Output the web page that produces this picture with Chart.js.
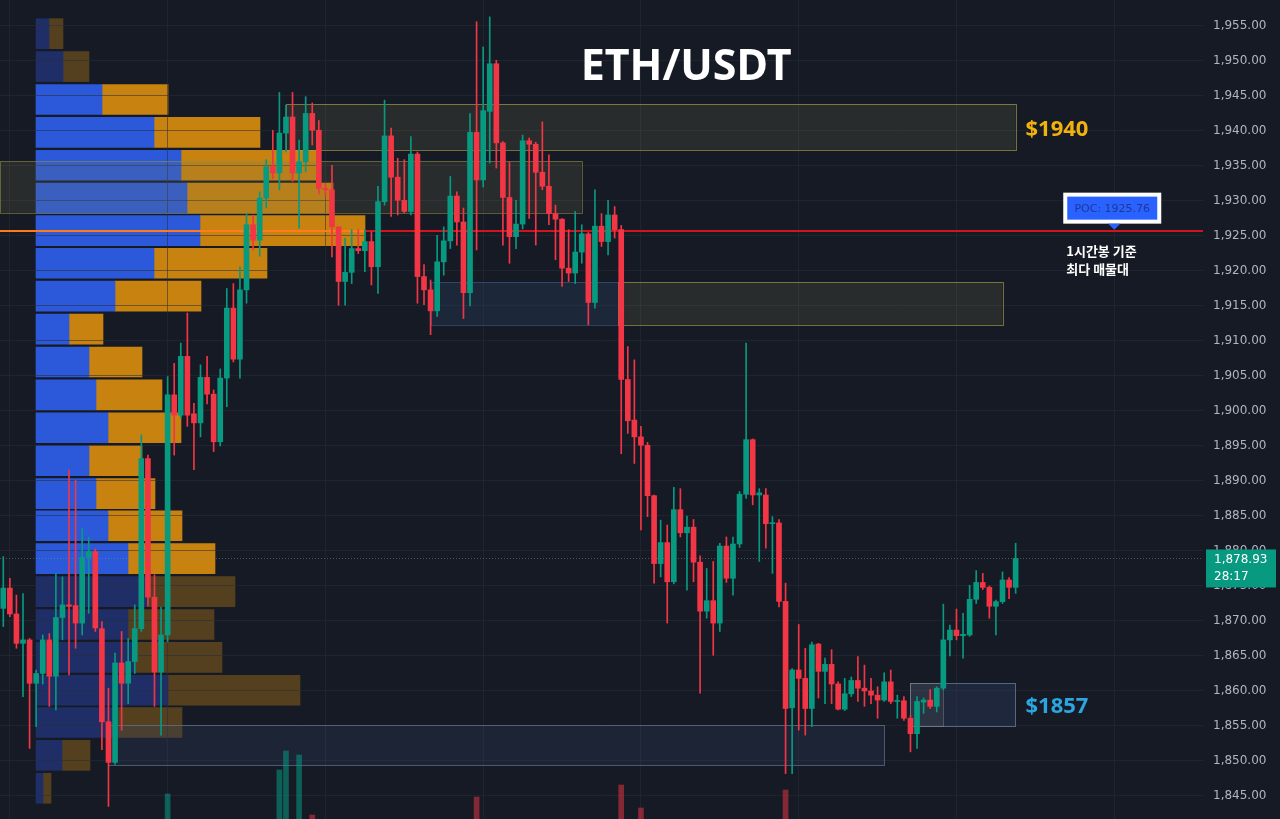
<!DOCTYPE html>
<html>
<head>
<meta charset="utf-8">
<script src="https://cdn.jsdelivr.net/npm/chart.js@4.4.1/dist/chart.umd.min.js"></script>
<style>
  html, body { margin: 0; padding: 0; background: #161a25; overflow: hidden; }
  #wrap { position: relative; width: 1280px; height: 819px; }
  #wrap canvas { position: absolute; left: 0; top: 0; }
</style>
</head>
<body>
<div id="wrap">
  <canvas id="profile" width="1280" height="819"></canvas>
  <canvas id="candles" width="1280" height="819"></canvas>
</div>
<script>
// ETH/USDT 1h candles
const opens = [
  1871.8, 1874.7, 1871.0, 1866.8, 1867.3, 1861.1, 1862.5, 1867.3, 1862.1, 1870.5,
  1872.3, 1872.2, 1869.7, 1879.1, 1879.9, 1868.9, 1855.6, 1849.8, 1864.0, 1861.1,
  1864.2, 1868.9, 1893.2, 1873.4, 1862.7, 1868.0, 1902.3, 1899.4, 1907.8, 1899.6,
  1898.3, 1904.8, 1902.4, 1895.6, 1904.7, 1914.7, 1907.4, 1917.3, 1926.6, 1924.4,
  1930.4, 1934.9, 1934.0, 1939.7, 1942.0, 1934.0, 1935.6, 1942.5, 1940.1, 1931.8,
  1931.6, 1926.3, 1918.5, 1919.8, 1923.2, 1922.9, 1924.2, 1920.6, 1929.9, 1939.3,
  1933.4, 1930.1, 1928.5, 1936.7, 1919.2, 1917.3, 1914.3, 1921.3, 1924.3, 1930.7,
  1927.0, 1916.9, 1939.8, 1933.0, 1942.8, 1949.6, 1938.3, 1930.5, 1924.9, 1926.7,
  1938.6, 1938.1, 1934.1, 1932.1, 1928.2, 1927.4, 1920.4, 1919.7, 1922.7, 1925.3,
  1915.5, 1926.4, 1924.2, 1928.0, 1925.9, 1904.5, 1898.7, 1896.3, 1895.1, 1887.9,
  1878.2, 1881.2, 1875.6, 1885.9, 1882.6, 1883.4, 1878.4, 1871.4, 1872.9, 1869.7,
  1880.7, 1876.1, 1881.0, 1888.1, 1895.9, 1888.0, 1888.0, 1883.9, 1884.0, 1872.8,
  1857.6, 1863.0, 1861.8, 1857.5, 1866.7, 1862.8, 1863.8, 1861.0, 1857.4, 1859.6,
  1861.5, 1860.4, 1860.0, 1859.4, 1858.7, 1861.3, 1858.5, 1858.6, 1856.1, 1853.9,
  1858.4, 1858.7, 1857.8, 1860.4, 1867.3, 1868.7, 1867.9, 1868.0, 1873.1, 1875.5,
  1874.8, 1872.1, 1872.76, 1875.86, 1874.8
];
const highs = [
  1879.2, 1876.1, 1873.7, 1873.9, 1867.5, 1863.0, 1868.0, 1868.2, 1876.8, 1876.3,
  1891.6, 1890.1, 1883.2, 1882.0, 1880.3, 1869.9, 1860.4, 1865.4, 1868.5, 1867.5,
  1872.3, 1896.6, 1893.7, 1876.6, 1872.0, 1904.9, 1906.8, 1909.7, 1914.0, 1901.1,
  1906.6, 1907.8, 1903.0, 1906.0, 1917.5, 1918.2, 1920.6, 1928.2, 1928.0, 1931.3,
  1935.9, 1940.1, 1945.5, 1943.7, 1945.5, 1938.7, 1944.9, 1944.0, 1941.5, 1932.5,
  1935.1, 1926.3, 1924.7, 1925.9, 1925.9, 1925.9, 1925.6, 1932.1, 1944.4, 1940.4,
  1936.1, 1935.9, 1939.2, 1937.0, 1920.9, 1918.7, 1925.1, 1926.3, 1933.5, 1931.3,
  1929.0, 1942.5, 1955.6, 1952.0, 1956.3, 1950.1, 1938.5, 1935.6, 1930.1, 1939.4,
  1939.0, 1938.4, 1941.3, 1936.6, 1929.4, 1927.5, 1925.9, 1928.5, 1926.6, 1925.5,
  1931.6, 1928.2, 1930.1, 1929.2, 1926.5, 1909.2, 1907.3, 1897.8, 1895.5, 1888.0,
  1884.4, 1883.7, 1889.1, 1888.9, 1885.0, 1884.5, 1879.3, 1877.5, 1878.5, 1881.1,
  1882.0, 1882.0, 1888.5, 1909.7, 1896.0, 1888.9, 1888.9, 1884.9, 1884.5, 1875.4,
  1863.2, 1869.5, 1866.1, 1867.0, 1866.8, 1864.7, 1865.9, 1861.3, 1861.8, 1862.0,
  1864.9, 1863.7, 1861.8, 1860.6, 1862.6, 1863.0, 1859.4, 1859.2, 1856.5, 1859.2,
  1859.0, 1860.2, 1860.6, 1872.4, 1869.4, 1871.7, 1871.1, 1875.1, 1877.2, 1876.8,
  1875.0, 1873.0, 1877.0, 1876.2, 1881.1
];
const lows = [
  1869.2, 1870.6, 1866.1, 1859.2, 1851.8, 1854.9, 1861.0, 1857.8, 1857.3, 1867.3,
  1862.3, 1866.1, 1868.0, 1871.1, 1868.5, 1851.6, 1843.5, 1849.5, 1854.4, 1858.2,
  1862.5, 1868.5, 1872.1, 1857.8, 1853.7, 1867.0, 1893.7, 1899.0, 1897.8, 1891.6,
  1896.3, 1901.0, 1894.2, 1895.0, 1900.6, 1907.0, 1904.7, 1915.4, 1923.0, 1922.1,
  1929.0, 1933.2, 1931.6, 1937.0, 1932.8, 1926.1, 1934.2, 1938.0, 1931.0, 1930.8,
  1922.0, 1915.1, 1915.1, 1918.2, 1922.5, 1919.9, 1918.0, 1916.8, 1929.4, 1927.8,
  1928.0, 1928.3, 1928.0, 1915.4, 1915.2, 1910.9, 1913.5, 1919.4, 1923.2, 1923.7,
  1913.2, 1915.0, 1923.0, 1932.0, 1935.4, 1934.7, 1923.7, 1921.1, 1923.2, 1926.0,
  1927.5, 1923.7, 1931.6, 1926.6, 1921.6, 1917.8, 1918.5, 1918.2, 1921.1, 1912.3,
  1914.7, 1923.5, 1922.3, 1924.7, 1893.9, 1896.8, 1892.5, 1883.0, 1884.9, 1875.4,
  1876.3, 1869.7, 1875.3, 1882.0, 1874.4, 1875.6, 1859.7, 1870.4, 1865.1, 1868.5,
  1875.5, 1873.7, 1880.5, 1887.5, 1886.6, 1878.5, 1880.4, 1876.8, 1872.0, 1848.2,
  1848.2, 1854.4, 1853.7, 1854.9, 1859.0, 1858.2, 1858.2, 1857.3, 1857.2, 1859.2,
  1858.5, 1857.8, 1858.2, 1856.1, 1858.5, 1858.2, 1856.1, 1855.8, 1851.3, 1851.8,
  1856.8, 1857.5, 1857.0, 1860.2, 1865.0, 1867.3, 1864.7, 1867.8, 1872.5, 1874.5,
  1870.4, 1868.0, 1872.5, 1873.2, 1873.95
];
const closes = [
  1874.7, 1871.0, 1866.8, 1867.3, 1861.1, 1862.5, 1867.3, 1862.1, 1870.5, 1872.3,
  1872.1, 1869.7, 1879.1, 1879.9, 1869.0, 1855.6, 1849.8, 1864.0, 1861.1, 1864.2,
  1868.9, 1893.2, 1873.4, 1862.7, 1868.0, 1902.3, 1899.4, 1907.8, 1899.4, 1898.3,
  1904.8, 1902.4, 1895.6, 1904.7, 1914.7, 1907.4, 1917.3, 1926.6, 1924.4, 1930.4,
  1934.9, 1934.0, 1939.7, 1942.0, 1934.0, 1935.6, 1942.5, 1940.1, 1931.8, 1931.6,
  1926.3, 1918.5, 1919.8, 1923.2, 1922.9, 1924.2, 1920.6, 1929.9, 1939.3, 1933.4,
  1930.1, 1928.5, 1936.7, 1919.2, 1917.3, 1914.3, 1921.3, 1924.3, 1930.7, 1927.0,
  1916.9, 1939.8, 1933.0, 1942.9, 1949.6, 1938.3, 1930.5, 1924.9, 1926.7, 1938.6,
  1938.1, 1934.1, 1932.1, 1928.2, 1927.4, 1920.4, 1919.7, 1922.7, 1925.3, 1915.5,
  1926.4, 1924.2, 1928.0, 1925.9, 1904.5, 1898.6, 1896.3, 1895.1, 1887.9, 1878.2,
  1881.2, 1875.6, 1885.9, 1882.6, 1883.4, 1878.4, 1871.4, 1872.9, 1869.7, 1880.7,
  1876.1, 1881.0, 1888.1, 1895.9, 1888.0, 1888.3, 1883.9, 1884.0, 1872.8, 1857.5,
  1863.0, 1861.8, 1857.5, 1866.6, 1862.8, 1863.8, 1861.0, 1857.4, 1859.6, 1861.5,
  1860.4, 1860.0, 1859.4, 1858.7, 1861.3, 1858.5, 1858.6, 1856.1, 1853.9, 1858.5,
  1858.7, 1857.8, 1860.4, 1867.3, 1868.7, 1867.9, 1868.1, 1873.1, 1875.5, 1874.8,
  1872.1, 1872.76, 1875.86, 1874.8, 1878.93
];

// volume bars that poke up from the bottom edge (candle index, volume)
const volumeIndex = [25, 42, 43, 45, 47, 72, 94, 97, 119];
const volumeValue = [25, 49, 68, 64, 4, 22, 34, 11, 29];

// volume profile rows (price of row centre, buy / sell volume)
const rowPrices = [1953.9, 1949.2, 1944.5, 1939.8, 1935.1, 1930.4, 1925.76, 1921.1, 1916.4, 1911.7, 1907.0, 1902.3,
  1897.6, 1892.9, 1888.2, 1883.6, 1878.9, 1874.2, 1869.5, 1864.8, 1860.1, 1855.5, 1850.8, 1846.1];
const rowBuy  = [13, 27, 66, 118, 145, 151, 164, 118, 79, 33, 53, 60, 72, 53, 60, 72, 92, 112, 92, 99, 132, 82, 26, 7];
const rowSell = [14, 26, 66, 106, 137, 146, 165, 113, 86, 34, 53, 66, 73, 53, 59, 74, 87, 87, 86, 87, 132, 64, 28, 8];
const rowInValueArea = [0, 0, 1, 1, 1, 1, 1, 1, 1, 1, 1, 1, 1, 1, 1, 1, 1, 0, 0, 0, 0, 0, 0, 0];

const priceTicks = [1845, 1850, 1855, 1860, 1865, 1870, 1875, 1880, 1885, 1890, 1895, 1900, 1905, 1910,
  1915, 1920, 1925, 1930, 1935, 1940, 1945, 1950, 1955];

const pocPrice = 1925.76;
const lastPrice = 1878.93;
const countdown = '28:17';

// zones: candle index range + price range
const zones = [
  { from: -0.5, to: 88,   top: 1935.7,  bottom: 1928.3,  fill: 'rgba(120,120,80,0.20)', line: 'rgba(150,145,70,0.55)' },
  { from: 43,   to: 154,  top: 1943.86, bottom: 1937.29, fill: 'rgba(120,120,80,0.20)', line: 'rgba(170,160,70,0.65)' },
  { from: 65,   to: 93.5, top: 1918.4,  bottom: 1912.3,  fill: 'rgba(45,70,110,0.30)',  line: 'rgba(70,100,150,0.55)' },
  { from: 93.5, to: 152,  top: 1918.4,  bottom: 1912.3,  fill: 'rgba(120,120,80,0.20)', line: 'rgba(170,160,70,0.65)' },
  { from: 16,   to: 134,  top: 1855.14, bottom: 1849.43, fill: 'rgba(45,65,100,0.28)',  line: 'rgba(120,140,170,0.55)' },
  { from: 138,  to: 154,  top: 1861.1,  bottom: 1854.9,  fill: 'rgba(45,65,100,0.35)',  line: 'rgba(120,140,170,0.65)' },
  { from: 138,  to: 143,  top: 1861.1,  bottom: 1854.9,  fill: 'rgba(120,120,120,0.16)', line: 'rgba(140,140,140,0.45)' }
];
const levelLabels = [
  { text: '$1940', price: 1940.2, color: '#f2b20d' },
  { text: '$1857', price: 1857.7, color: '#2ba6e1' }
];

const UP = '#089981', DOWN = '#f23645';
const SLOTS = 183;
const AXIS_W = 77;
const Y_MIN = 1841.71, Y_MAX = 1958.71;

const slotLabels = [];
for (let i = 0; i < SLOTS; i++) slotLabels.push(String(i));

const candleColors = opens.map((o, i) => closes[i] >= o ? UP : DOWN);
const volumeData = opens.map(() => null);
const volumeColors = opens.map(() => 'transparent');
volumeIndex.forEach((idx, k) => {
  volumeData[idx] = volumeValue[k];
  volumeColors[idx] = closes[idx] >= opens[idx] ? 'rgba(8,153,129,0.55)' : 'rgba(242,54,69,0.5)';
});

function fmt(v) {
  return v.toLocaleString('en-US', { minimumFractionDigits: 2, maximumFractionDigits: 2 });
}

// keep the price axis from eating vertical space
function fixAxis(s) {
  s.width = AXIS_W;
  s.paddingTop = 0;
  s.paddingBottom = 0;
}

// ---------- volume profile (drawn underneath) ----------
new Chart(document.getElementById('profile'), {
  type: 'bar',
  data: {
    datasets: [{
      data: rowPrices.map((p, i) => ({ x: rowBuy[i], y: p })),
      backgroundColor: rowInValueArea.map(v => v ? '#2b59da' : '#1f2e66'),
      barThickness: 30,
      grouped: false
    }, {
      data: rowPrices.map((p, i) => ({ x: rowSell[i], y: p })),
      backgroundColor: rowInValueArea.map(v => v ? '#c7820f' : '#54401f'),
      barThickness: 30,
      grouped: false
    }]
  },
  options: {
    indexAxis: 'y',
    responsive: false,
    animation: false,
    layout: { padding: 0 },
    plugins: { legend: { display: false }, tooltip: { enabled: false } },
    scales: {
      x: { type: 'linear', stacked: true, min: -36, max: 1167, display: false },
      y: {
        type: 'linear', offset: false, position: 'right', min: Y_MIN, max: Y_MAX,
        grid: { display: false }, border: { display: false }, ticks: { display: false },
        afterFit: fixAxis
      }
    }
  }
});

// ---------- overlays ----------
const overlays = {
  id: 'overlays',
  beforeDatasetsDraw(chart) {
    const { ctx, chartArea: a, scales: { x, y } } = chart;
    ctx.save();
    zones.forEach(z => {
      const x1 = x.getPixelForValue(z.from), x2 = x.getPixelForValue(z.to);
      const y1 = y.getPixelForValue(z.top), y2 = y.getPixelForValue(z.bottom);
      ctx.fillStyle = z.fill;
      ctx.fillRect(x1, y1, x2 - x1, y2 - y1);
      ctx.strokeStyle = z.line;
      ctx.lineWidth = 1;
      ctx.strokeRect(Math.round(x1) + 0.5, Math.round(y1) + 0.5, Math.round(x2 - x1), Math.round(y2 - y1));
    });
    // POC line
    const py = Math.round(y.getPixelForValue(pocPrice));
    const profEnd = 36 + rowBuy[6] + rowSell[6];
    ctx.fillStyle = '#ff7b1a';
    ctx.fillRect(0, py - 1, profEnd, 2);
    ctx.fillStyle = '#d2151d';
    ctx.fillRect(profEnd, py - 1, a.right - profEnd, 2);
    // last price dotted line
    const ly = Math.round(y.getPixelForValue(lastPrice)) + 0.5;
    ctx.strokeStyle = 'rgba(120,140,150,0.55)';
    ctx.setLineDash([1, 2]);
    ctx.beginPath(); ctx.moveTo(0, ly); ctx.lineTo(a.right, ly); ctx.stroke();
    ctx.restore();
  },
  afterDraw(chart) {
    const { ctx, chartArea: a, scales: { x, y } } = chart;
    ctx.save();
    // title
    ctx.fillStyle = '#ffffff';
    ctx.font = 'bold 43px "Noto Sans", "Open Sans", sans-serif';
    ctx.textAlign = 'center';
    ctx.textBaseline = 'middle';
    ctx.fillText('ETH/USDT', chart.width * 0.536, 68);

    // level labels
    ctx.textAlign = 'left';
    ctx.font = 'bold 22px "Noto Sans", "Open Sans", sans-serif';
    levelLabels.forEach(l => {
      ctx.fillStyle = l.color;
      ctx.fillText(l.text, x.getPixelForValue(155.5), y.getPixelForValue(l.price));
    });

    // POC tag
    const py = y.getPixelForValue(pocPrice);
    const cx = x.getPixelForValue(169);
    ctx.fillStyle = '#ffffff';
    ctx.fillRect(cx - 51, py - 38, 98, 31);
    ctx.fillStyle = '#2962ff';
    ctx.fillRect(cx - 47, py - 34, 90, 23);
    ctx.beginPath();
    ctx.moveTo(cx - 6, py - 7); ctx.lineTo(cx + 6, py - 7); ctx.lineTo(cx, py - 1); ctx.closePath();
    ctx.fill();
    ctx.fillStyle = '#1d3a94';
    ctx.font = '11px "DejaVu Sans", sans-serif';
    ctx.textAlign = 'center';
    ctx.fillText('POC: ' + pocPrice.toFixed(2), cx - 2, py - 22);
    ctx.fillStyle = '#ffffff';
    ctx.textAlign = 'left';
    ctx.font = 'bold 13px "Noto Sans CJK KR", sans-serif';
    ctx.fillText('1시간봉 기준', cx - 48, py + 20);
    ctx.fillText('최다 매물대', cx - 48, py + 38);

    // last price tag on the axis
    const ly = y.getPixelForValue(lastPrice);
    ctx.fillStyle = UP;
    ctx.fillRect(a.right + 3, ly - 9, 70, 38);
    ctx.fillStyle = '#ffffff';
    ctx.font = '12px "DejaVu Sans", sans-serif';
    ctx.fillText(fmt(lastPrice), a.right + 11, ly + 1);
    ctx.fillText(countdown, a.right + 11, ly + 18);
    ctx.restore();
  }
};

// ---------- candles ----------
new Chart(document.getElementById('candles'), {
  type: 'bar',
  data: {
    labels: slotLabels,
    datasets: [{
      label: 'body',
      data: opens.map((o, i) => [o, closes[i]]),
      backgroundColor: candleColors,
      barThickness: 5,
      minBarLength: 1,
      grouped: false,
      order: 1
    }, {
      label: 'wick',
      data: lows.map((l, i) => [l, highs[i]]),
      backgroundColor: candleColors,
      barThickness: 1,
      grouped: false,
      order: 2
    }, {
      label: 'volume',
      data: volumeData,
      yAxisID: 'yV',
      backgroundColor: volumeColors,
      barThickness: 5,
      grouped: false,
      order: 3
    }]
  },
  options: {
    responsive: false,
    animation: false,
    layout: { padding: 0 },
    plugins: { legend: { display: false }, tooltip: { enabled: false } },
    scales: {
      x: {
        type: 'category', offset: true,
        grid: {
          offset: false, drawTicks: false,
          color: c => (c.index % 24 === 1 ? 'rgba(42,46,57,0.55)' : 'transparent')
        },
        border: { display: false },
        ticks: { display: false }
      },
      y: {
        position: 'right', min: Y_MIN, max: Y_MAX,
        afterBuildTicks: s => { s.ticks = priceTicks.map(v => ({ value: v })); },
        afterFit: fixAxis,
        grid: { color: 'rgba(42,46,57,0.55)', drawTicks: false },
        border: { display: false },
        ticks: {
          padding: 10,
          color: '#b2b5be',
          font: { family: '"DejaVu Sans", sans-serif', size: 12 },
          callback: v => fmt(v)
        }
      },
      yV: { display: false, min: 0, max: 819 }
    }
  },
  plugins: [overlays]
});
</script>
</body>
</html>
